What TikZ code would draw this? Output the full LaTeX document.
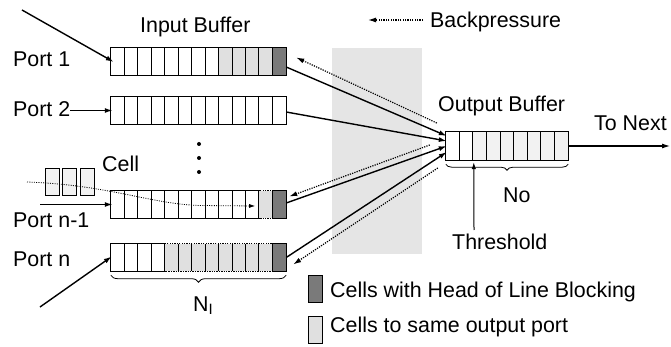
\documentclass[tikz,border=0pt]{standalone}
\usepackage{fontspec}
\setmainfont{Liberation Sans}
\usetikzlibrary{arrows.meta,calc,decorations.pathreplacing}
\definecolor{darkc}{gray}{0.48}
\definecolor{lightc}{gray}{0.88}
\definecolor{paler}{gray}{0.95}
\definecolor{zone}{gray}{0.90}
\begin{document}
\begin{tikzpicture}[x=1pt,y=-1pt,
  lbl/.style={inner sep=0pt, anchor=base west, font=\fontsize{21.4}{24}\selectfont},
  bufnode/.style={inner sep=0pt, minimum width=175pt, minimum height=27pt},
  outline/.style={line width=0.9pt},
  dotline/.style={line width=0.9pt, dash pattern=on 1.3pt off 1.1pt},
  solidarr/.style={line width=1.4pt, -{Latex[length=8pt,width=5pt]}},
  dotarr/.style={line width=1.2pt, dash pattern=on 1.2pt off 1.2pt, -{Latex[length=8pt,width=5pt]}},
  thinarr/.style={line width=1pt, -{Latex[length=7pt,width=4.5pt]}},
  pathdot/.style={line width=0.8pt, dash pattern=on 1pt off 1.3pt, -{Latex[length=6pt,width=4pt]}},
  bracestyle/.style={decorate, decoration={brace, mirror, amplitude=7pt}, line width=0.8pt},
  smallbox/.style={draw, line width=0.9pt, inner sep=0pt, minimum width=14pt, minimum height=27pt},
  dotn/.style={circle, fill, inner sep=0pt, minimum size=4pt}
]
\useasboundingbox (0,0) rectangle (671,347);
\def\cw{13.4615}
\def\co{13.5556}

% switch fabric zone
\fill[zone] (332,48) rectangle (422,254);

% buffer nodes
\node[bufnode] (b1) at (198.5,61.5) {};
\node[bufnode] (b2) at (198.5,110.5) {};
\node[bufnode] (bn1) at (198.5,204.5) {};
\node[bufnode] (bn) at (198.5,257.5) {};
\node[inner sep=0pt, minimum width=122pt, minimum height=28pt] (ob) at (507,146) {};

% fills
\fill[lightc] ($(b1.north west)+(8*\cw,0)$) rectangle ($(b1.south west)+(12*\cw,0)$);
\fill[darkc] ($(b1.north west)+(12*\cw,0)$) rectangle (b1.south east);
\fill[lightc] ($(bn1.north west)+(11*\cw,0)$) rectangle ($(bn1.south west)+(12*\cw,0)$);
\fill[darkc] ($(bn1.north west)+(12*\cw,0)$) rectangle (bn1.south east);
\fill[lightc] ($(bn.north west)+(4*\cw,0)$) rectangle ($(bn.south west)+(12*\cw,0)$);
\fill[darkc] ($(bn.north west)+(12*\cw,0)$) rectangle (bn.south east);
\fill[paler] ($(ob.north west)+(2*\co,0)$) rectangle (ob.south east);

% buffer 1 and 2 outlines
\foreach \b in {b1,b2}{
  \draw[outline] (\b.north west) rectangle (\b.south east);
  \foreach \i in {1,...,12}
    \draw[outline] ($(\b.north west)+(\i*\cw,0)$) -- ($(\b.south west)+(\i*\cw,0)$);
}
% buffer n-1 outline
\draw[outline] (bn1.north west) rectangle ($(bn1.south west)+(11*\cw,0)$);
\foreach \i in {1,...,10}
  \draw[outline] ($(bn1.north west)+(\i*\cw,0)$) -- ($(bn1.south west)+(\i*\cw,0)$);
\draw[dotline] ($(bn1.north west)+(11*\cw,0)$) rectangle ($(bn1.south west)+(12*\cw,0)$);
\draw[outline] ($(bn1.north west)+(12*\cw,0)$) rectangle (bn1.south east);
% buffer n outline
\draw[outline] (bn.north west) rectangle ($(bn.south west)+(4*\cw,0)$);
\foreach \i in {1,2,3,5,6,7,8,9,10,11}
  \draw[outline] ($(bn.north west)+(\i*\cw,0)$) -- ($(bn.south west)+(\i*\cw,0)$);
\draw[dotline] ($(bn.north west)+(4*\cw,0)$) rectangle ($(bn.south west)+(12*\cw,0)$);
\draw[outline] ($(bn.north west)+(12*\cw,0)$) rectangle (bn.south east);
% output buffer outline
\draw[outline] (ob.north west) rectangle (ob.south east);
\foreach \i in {1,...,8}
  \draw[outline] ($(ob.north west)+(\i*\co,0)$) -- ($(ob.south west)+(\i*\co,0)$);

% labels
\node[lbl] (tin) at (140,33) {Input Buffer};
\node[lbl] (p1) at (13,67) {Port 1};
\node[lbl] (p2) at (13,117) {Port 2};
\node[lbl] (pn1) at (13,227) {Port n-1};
\node[lbl] (pn) at (13,266) {Port n};
\node[lbl] (tcell) at (102,172) {Cell};
\node[lbl] (tbp) at (430,28) {Backpressure};
\node[lbl] (tout) at (438,112) {Output Buffer};
\node[lbl] (tnext) at (594,131) {To Next};
\node[lbl] (tno) at (503,203) {No};
\node[lbl] (tni) at (193,311) {N\textsubscript{I}};
\node[lbl] (tth) at (452,249) {Threshold};
\node[lbl] (tl1) at (330,297) {Cells with Head of Line Blocking};
\node[lbl] (tl2) at (330,332) {Cells to same output port};

% legend boxes
\node[smallbox, fill=darkc] (lg1) at (315,288.5) {};
\node[smallbox, fill=lightc] (lg2) at (315,329.5) {};

% incoming cells
\node[smallbox, fill=paler] (c1) at (52,181.5) {};
\node[smallbox, fill=paler] (c2) at (69.5,181.5) {};
\node[smallbox, fill=paler] (c3) at (87,181.5) {};

% vertical dots
\node[dotn] (d1) at (199,144) {};
\node[dotn] (d2) at (199,158) {};
\node[dotn] (d3) at (199,172) {};

% free-end coordinates
\coordinate (in1) at (22,10);
\coordinate (inn1) at (40,204.5);
\coordinate (inn) at (40,307);
\coordinate (cs) at (27,182);
\coordinate (thr) at (474,230);
\coordinate (next) at (670,146);
\coordinate (bps) at (423,20);
\coordinate (bpe) at (368,20);

% port arrows
\draw[solidarr] (in1) -- ($(b1.west)+(3,0.5)$);
\draw[solidarr] (p2.east |- b2.west) -- ($(b2.west)+(2,0)$);
\draw[solidarr] (inn1) -- ($(bn1.west)+(2,0)$);
\draw[solidarr] (inn) -- ($(bn.west)+(1,-1)$);

% cell path
\draw[pathdot] (cs) .. controls (110,185) and (150,204) .. (200,205.5) -- ($(bn1.east)+(-31,1.5)$);

% switch connections
\draw[solidarr] ($(b1.east)+(0,5.5)$) -- ($(ob.west)+(1,-10)$);
\draw[solidarr] ($(b2.east)+(0,1.5)$) -- ($(ob.west)+(1,-5)$);
\draw[solidarr] ($(bn1.east)+(0,-1.5)$) -- ($(ob.west)+(1,0)$);
\draw[solidarr] ($(bn.east)+(0,0)$) -- ($(ob.west)+(1,6)$);

% backpressure
\draw[dotarr] ($(ob.west)+(-9,-23)$) -- ($(b1.east)+(10,-4)$);
\draw[dotarr] ($(ob.west)+(-16,-1)$) -- ($(bn1.east)+(3,-8)$);
\draw[dotarr] ($(ob.west)+(-8,22)$) -- ($(bn.east)+(7,7)$);
\draw[dotarr] (bps) -- (bpe);

% output
\draw[solidarr, line width=1.1pt] (ob.east) -- (next);
\draw[thinarr] (thr) -- ($(ob.south west)+(28,2)$);

% braces
\draw[bracestyle] ($(bn.south west)+(0,4)$) -- ($(bn.south east)+(0,4)$);
\draw[bracestyle, decoration={amplitude=6pt}] ($(ob.south west)+(0,4)$) -- ($(ob.south east)+(0,4)$);
\end{tikzpicture}
\end{document}
